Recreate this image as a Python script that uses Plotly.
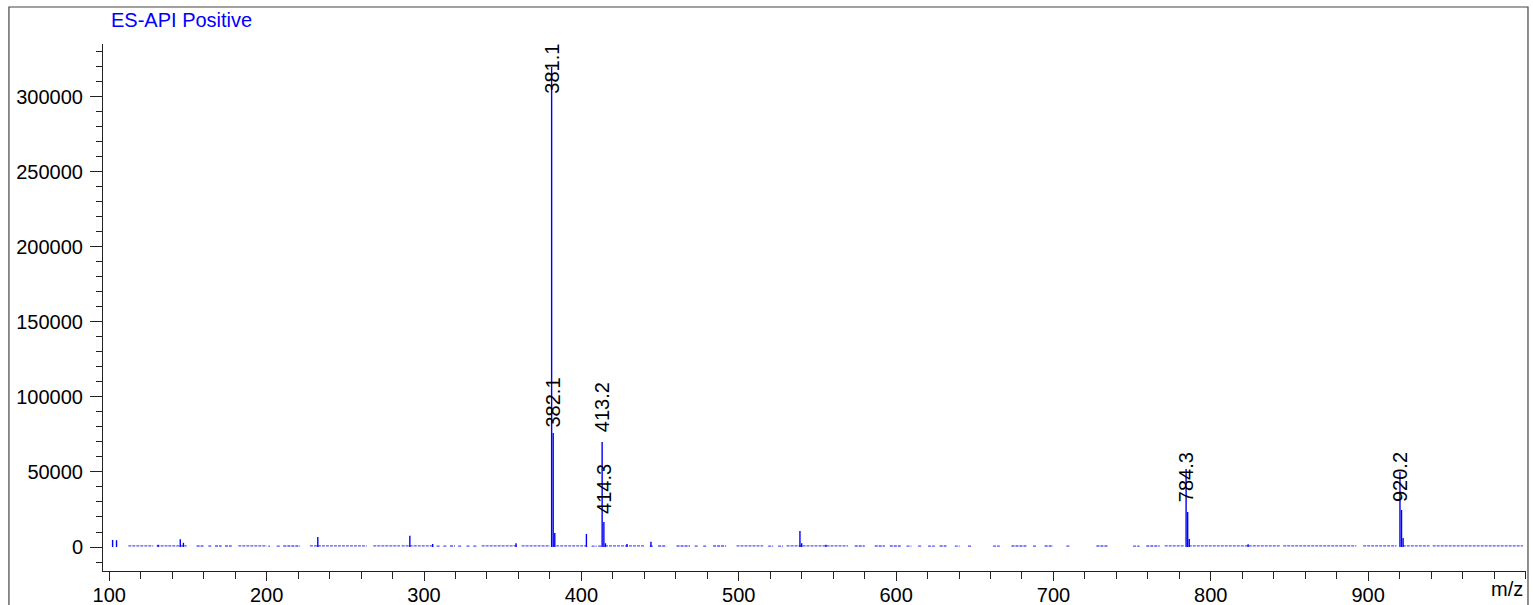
import plotly.graph_objects as go

# ---------------- data ----------------
peak_mz = [102.1, 104.6, 131.0, 145.1, 147.1, 232.5, 291.0, 305.5, 358.5,
           381.1, 382.1, 383.1, 403.2, 413.2, 414.3, 415.3, 429.0, 444.2,
           538.9, 540.0, 555.4, 784.3, 785.3, 786.3, 823.7, 920.2, 921.2, 922.2]
peak_int = [4700, 4500, 1500, 5100, 2800, 6600, 7500, 2000, 2500,
            320000, 76000, 9300, 8700, 70000, 16700, 2500, 2000, 3500,
            10700, 2500, 1500, 52000, 23300, 5300, 1800, 50000, 24700, 6000]

# baseline noise: m/z ranges where low-level signal is present
noise_start = [112.1, 130.1, 137.5, 155.5, 162.9, 167.2, 173.5, 182.0, 201.0, 206.4,
               210.6, 227.5, 267.8, 285.8, 308.0, 312.3, 316.5, 321.7, 327.0, 331.3,
               336.6, 362.0, 384.0, 406.5, 410.7, 415.0, 443.5, 448.8, 460.5, 472.0,
               477.4, 483.7, 498.6, 518.7, 525.0, 530.4, 573.7, 586.4, 596.0, 606.6,
               614.0, 620.3, 627.7, 637.3, 645.7, 661.6, 673.3, 687.0, 694.4, 708.2,
               727.3, 750.6, 759.0, 770.7, 786.0, 846.0, 896.8, 922.0, 941.0]
noise_end = [128.0, 137.0, 149.2, 159.8, 165.0, 171.4, 177.8, 200.0, 202.1, 208.5,
             221.2, 263.6, 284.7, 305.9, 310.2, 314.4, 319.6, 323.9, 329.0, 333.4,
             358.8, 380.0, 403.0, 409.7, 412.8, 440.0, 445.6, 454.0, 469.0, 474.0,
             479.5, 492.0, 515.5, 521.9, 528.2, 569.5, 580.1, 592.8, 603.4, 609.7,
             616.1, 624.6, 632.0, 640.4, 647.9, 665.9, 682.8, 689.1, 699.7, 710.3,
             734.7, 754.8, 767.5, 783.4, 843.8, 892.5, 918.0, 939.0, 998.4]
noise_level = [700, 700, 700, 650, 650, 650, 650, 700, 600, 600,
               650, 750, 700, 750, 600, 600, 650, 600, 600, 600,
               750, 750, 700, 600, 600, 750, 600, 650, 650, 600,
               600, 650, 700, 600, 600, 750, 650, 650, 650, 600,
               600, 600, 650, 600, 600, 600, 650, 600, 650, 600,
               650, 600, 650, 700, 750, 750, 750, 700, 700]

label_mz = [381.1, 382.1, 413.2, 414.3, 784.3, 920.2]
label_text = ["381.1", "382.1", "413.2", "414.3", "784.3", "920.2"]

x_range = [96.0, 1000.3]
y_range = [-16000, 335300]

# ---------------- build traces ----------------
sx, sy = [], []
for m, i in zip(peak_mz, peak_int):
    sx += [m, m, None]
    sy += [0, i, None]

nx, ny = [], []
for s, e, l in zip(noise_start, noise_end, noise_level):
    nx += [s, e, None]
    ny += [l, l, None]

FONT = "Liberation Sans, Arial, sans-serif"

fig = go.Figure()
fig.add_trace(go.Scatter(x=nx, y=ny, mode="lines",
                         line=dict(color="rgba(40,40,255,0.8)", width=1.3, dash="3px,1px"),
                         hoverinfo="skip", showlegend=False))
fig.add_trace(go.Scatter(x=sx, y=sy, mode="lines",
                         line=dict(color="#0000FF", width=1.4),
                         showlegend=False))

# label placement (bottom of rotated label, in intensity units)
label_bottom = {381.1: 301300, 382.1: 79100, 413.2: 76000,
                414.3: 21300, 784.3: 29300, 920.2: 29300}
for m, t in zip(label_mz, label_text):
    fig.add_annotation(x=m, y=label_bottom[m], xref="x", yref="y", text=t,
                       textangle=-90, showarrow=False, xanchor="center",
                       yanchor="bottom", borderpad=0,
                       font=dict(family=FONT, size=20, color="black"))

fig.add_annotation(x=0.004, y=1.0455, xref="paper", yref="paper",
                   text="ES-API Positive", showarrow=False, xanchor="left",
                   yanchor="middle", font=dict(family=FONT, size=20, color="#0000FF"))
fig.add_annotation(x=0.9995, y=-0.0585, xref="paper", yref="paper",
                   text="m/z", showarrow=False, xanchor="right",
                   yanchor="bottom", font=dict(family=FONT, size=20, color="black"))

# outer frame
fig.add_shape(type="rect", xref="paper", yref="paper",
              x0=-0.0661, x1=1.0014, y0=-0.3, y1=1.0702,
              line=dict(color="#444444", width=1.2), fillcolor="rgba(0,0,0,0)")

fig.update_layout(
    width=1533, height=605,
    margin=dict(l=103, r=7, t=44, b=34, pad=0, autoexpand=False),
    paper_bgcolor="white", plot_bgcolor="white",
    font=dict(family=FONT, size=20, color="black"),
    showlegend=False,
)
fig.update_xaxes(range=x_range, showline=True, linecolor="#222222", linewidth=1,
                 automargin=False,
                 showgrid=False, zeroline=False, ticks="outside", ticklen=9,
                 tickcolor="#222222", tickvals=[100, 200, 300, 400, 500, 600, 700, 800, 900],
                 ticktext=["100", "200", "300", "400", "500", "600", "700", "800", "900"],
                 minor=dict(ticks="outside", dtick=20, tick0=0, ticklen=7, tickcolor="#222222"),
                 tickfont=dict(family=FONT, size=20), ticklabelstandoff=-3)
fig.update_yaxes(range=y_range, showline=True, linecolor="#222222", linewidth=1,
                 automargin=False,
                 showgrid=False, zeroline=False, ticks="outside", ticklen=12,
                 tickcolor="#222222", tickvals=[0, 50000, 100000, 150000, 200000, 250000, 300000],
                 ticktext=["0", "50000", "100000", "150000", "200000", "250000", "300000"],
                 minor=dict(ticks="outside", dtick=10000, tick0=0, ticklen=6, tickcolor="#222222"),
                 tickfont=dict(family=FONT, size=20), ticklabelstandoff=3)

fig.write_html("out.html", config={"displayModeBar": False},
               post_script="document.body.style.margin='0';document.body.style.overflow='hidden';")
